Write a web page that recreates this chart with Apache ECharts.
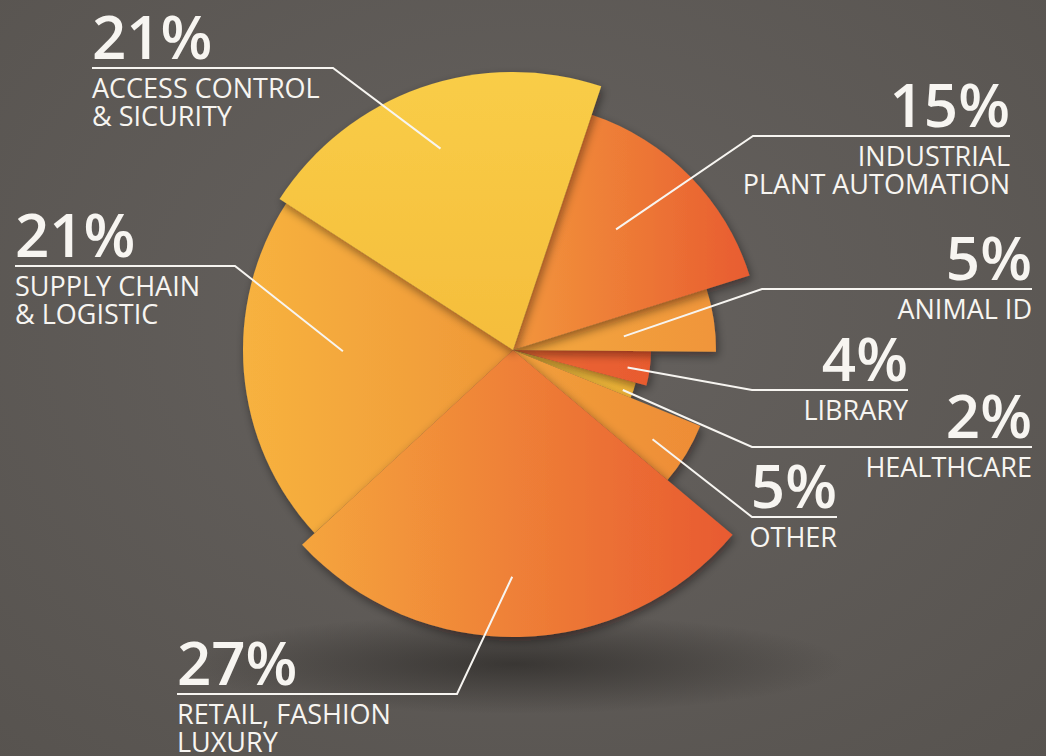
<!DOCTYPE html>
<html>
<head>
<meta charset="utf-8">
<script src="https://cdn.jsdelivr.net/npm/echarts@6/dist/echarts.min.js"></script>
<style>
html,body{margin:0;padding:0;width:1046px;height:756px;overflow:hidden;background:#5b5754;}
#chart{width:1046px;height:756px;
background:
 radial-gradient(ellipse 330px 50px at 515px 664px, rgba(28,26,24,0.55) 0%, rgba(28,26,24,0) 100%),
 radial-gradient(ellipse 75% 80% at 50% 42%, #66625f 0%, #57534f 100%);}
</style>
</head>
<body>
<div id="chart"></div>
<script>
// ---- data (clockwise from the top-right) ----
const categories = [
  'INDUSTRIAL\nPLANT AUTOMATION',
  'ANIMAL ID',
  'LIBRARY',
  'HEALTHCARE',
  'OTHER',
  'RETAIL, FASHION\nLUXURY',
  'SUPPLY CHAIN\n& LOGISTIC',
  'ACCESS CONTROL\n& SICURITY'
];
const shares = [15, 5, 4, 2, 5, 27, 21, 21];

// ---- styling / layout ----
const sliceRadius = [248, 203, 138, 127, 202, 287, 270, 278];
const sliceColors = [
  ['#F2963C', '#E85C30'],
  ['#F3A83E', '#F0953A'],
  ['#EB6A33', '#E85A2F'],
  ['#F6C63F', '#F3B538'],
  ['#F1A03B', '#EE8C36'],
  ['#F5A53D', '#E85A31'],
  ['#F7B23F', '#EF9738'],
  ['#F9CD47', '#F5BD3C']
];
const gradientVertical = [false, false, false, false, false, false, false, true];
// leader line: bend point, end point, text alignment, start depth (share of radius), turn (deg)
const labelAnchor = [
  {bend: [753, 136], end: [1010, 136], align: 'right', lead: 0.64, turn: -5},
  {bend: [762, 289], end: [1032, 289], align: 'right', lead: 0.55, turn: 1.5},
  {bend: [752, 390], end: [908, 390], align: 'right', lead: 0.84, turn: 1},
  {bend: [752, 447], end: [1032, 447], align: 'right', lead: 0.92, turn: 1.5},
  {bend: [752, 517], end: [837, 517], align: 'right', lead: 0.82, turn: 1.5},
  {bend: [457, 694], end: [177, 694], align: 'left', lead: 0.79, turn: 1.5},
  {bend: [235, 266], end: [15, 266], align: 'left', lead: 0.63, turn: 4.5},
  {bend: [333, 68], end: [92, 68], align: 'left', lead: 0.77, turn: -0.5}
];
const drawOrder = [6, 3, 2, 1, 0, 4, 5, 7];

const CX = 513, CY = 350, START_ANGLE = 71.5;
const FONT = "'Open Sans', 'Noto Sans', sans-serif";
const TEXT_COLOR = '#f7f5f1';
const CLEAR = {color: 'rgba(0,0,0,0)', borderWidth: 0, shadowBlur: 0};

const chart = echarts.init(document.getElementById('chart'), null, {renderer: 'svg'});

function sliceStyle(i) {
  const c = sliceColors[i];
  return {
    color: {
      type: 'linear', x: 0, y: 0,
      x2: gradientVertical[i] ? 0 : 1, y2: gradientVertical[i] ? 1 : 0,
      colorStops: [{offset: 0, color: c[0]}, {offset: 1, color: c[1]}]
    },
    shadowBlur: 10,
    shadowColor: 'rgba(20,15,10,0.45)',
    shadowOffsetX: 2,
    shadowOffsetY: 4
  };
}

const basePie = {
  type: 'pie',
  silent: true,
  animation: false,
  center: [CX, CY],
  startAngle: START_ANGLE,
  clockwise: true,
  avoidLabelOverlap: false,
  minShowLabelAngle: 0
};

// one series per slice so each slice keeps its own radius
function sliceSeries(i, k) {
  return Object.assign({}, basePie, {
    z: 2 + k,
    radius: [0, sliceRadius[i]],
    label: {show: false},
    labelLine: {show: false},
    data: shares.map((v, j) => ({
      name: categories[j],
      value: v,
      itemStyle: j === i ? sliceStyle(i) : CLEAR
    }))
  });
}

// percentage labels + leader lines, drawn above all slices
const percentSeries = Object.assign({}, basePie, {
  z: 20,
  radius: [0, 280],
  itemStyle: CLEAR,
  data: shares.map((v, j) => ({name: categories[j], value: v})),
  label: {
    position: 'outside',
    alignTo: 'none',
    formatter: '{c}%',
    fontFamily: FONT,
    fontWeight: 600,
    fontSize: 60,
    lineHeight: 46,
    color: TEXT_COLOR
  },
  labelLine: {show: true, smooth: false, length: 10, length2: 10,
    lineStyle: {color: TEXT_COLOR, width: 2}},
  labelLayout: function (p) {
    const i = p.dataIndex, a = labelAnchor[i];
    const e = (p.labelLinePoints && p.labelLinePoints[0]) || [CX, CY - 1];
    const ang = Math.atan2(e[1] - CY, e[0] - CX) + a.turn * Math.PI / 180;
    const rr = sliceRadius[i] * a.lead;
    const s = [CX + Math.cos(ang) * rr, CY + Math.sin(ang) * rr];
    return {
      x: a.end[0],
      y: a.end[1] - 9.5,
      align: a.align,
      verticalAlign: 'bottom',
      labelLinePoints: [s, a.bend, a.end]
    };
  }
});

// category names under the leader lines
const nameSeries = Object.assign({}, basePie, {
  z: 21,
  radius: [0, 280],
  itemStyle: CLEAR,
  data: shares.map((v, j) => ({name: categories[j], value: v})),
  label: {
    position: 'outside',
    alignTo: 'none',
    formatter: '{b}',
    fontFamily: FONT,
    fontWeight: 400,
    fontSize: 27,
    lineHeight: 27.5,
    color: TEXT_COLOR
  },
  labelLine: {show: false},
  labelLayout: function (p) {
    const a = labelAnchor[p.dataIndex];
    return {
      x: a.end[0],
      y: a.end[1] + 6,
      align: a.align,
      verticalAlign: 'top'
    };
  }
});

chart.setOption({
  backgroundColor: 'transparent',
  tooltip: {show: false},
  series: drawOrder.map((i, k) => sliceSeries(i, k)).concat([percentSeries, nameSeries])
});
</script>
</body>
</html>
